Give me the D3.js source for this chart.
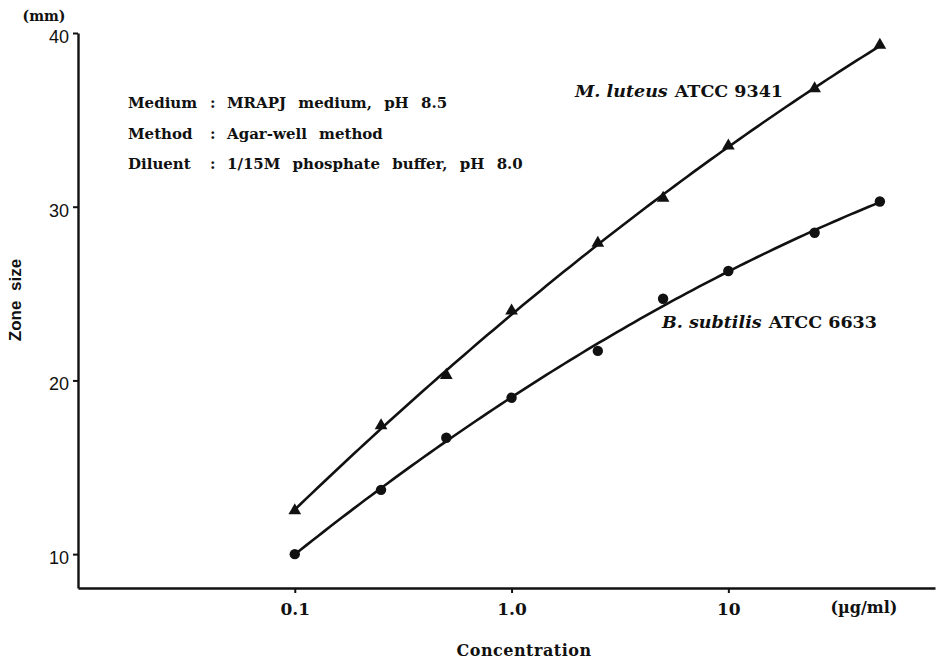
<!DOCTYPE html>
<html>
<head>
<meta charset="utf-8">
<script src="https://cdn.jsdelivr.net/npm/d3@7"></script>
<style>
  html, body { margin: 0; padding: 0; background: #fff; }
  svg { display: block; }
  .serif { font-family: "DejaVu Serif", "Liberation Serif", serif; fill: #111; }
  .sans { font-family: "Liberation Sans", Arial, sans-serif; fill: #111; }
</style>
</head>
<body>
<svg id="chart" width="939" height="661"></svg>
<script>
// Test concentrations (µg/ml) and inhibition zone diameters (mm)
const concentrations = [0.1, 0.25, 0.5, 1, 2.5, 5, 10, 25, 50];
const luteusZone   = [12.5, 17.4, 20.3, 24.0, 27.9, 30.5, 33.5, 36.8, 39.3];
const subtilisZone = [10.0, 13.7, 16.7, 19.0, 21.7, 24.7, 26.3, 28.5, 30.3];

const xTickValues = [0.1, 1, 10];
const xTickLabels = ["0.1", "1.0", "10"];
const yTickValues = [10, 20, 30, 40];

const conditionNames  = ["Medium", "Method", "Diluent"];
const conditionValues = ["MRAPJ medium, pH 8.5", "Agar-well method", "1/15M phosphate buffer, pH 8.0"];

const svg = d3.select("#chart");

const x = d3.scaleLog().domain([0.01, 89.8]).range([78, 935]);
const y = d3.scaleLinear().domain([8.05, 40]).range([588, 33]);

// Axes
const xAxis = d3.axisBottom(x)
  .tickValues(xTickValues)
  .tickFormat((d, i) => xTickLabels[i])
  .tickSizeInner(5).tickSizeOuter(0).tickPadding(10);
const yAxis = d3.axisLeft(y)
  .tickValues(yTickValues)
  .tickFormat(d3.format("d"))
  .tickSizeInner(5).tickSizeOuter(0).tickPadding(4);

const gx = svg.append("g").attr("transform", `translate(0,${y.range()[0]})`).call(xAxis);
const gy = svg.append("g").attr("transform", `translate(${x.range()[0]},0)`).call(yAxis);

[gx, gy].forEach(g => {
  g.select(".domain").attr("stroke", "#111").attr("stroke-width", 2.4);
  g.selectAll(".tick line").attr("stroke", "#111").attr("stroke-width", 2);
});
gx.selectAll(".tick text")
  .attr("class", "serif")
  .style("font-size", "17px").style("font-weight", "bold")
  .attr("fill", "#111");
gy.selectAll(".tick text")
  .attr("class", "sans")
  .style("font-size", "18px")
  .attr("fill", "#111")
  .attr("dy", "0.52em");

// Units and axis titles
svg.append("text").attr("class", "serif")
  .attr("x", 44).attr("y", 21).attr("text-anchor", "middle")
  .style("font-size", "14px").style("font-weight", "bold")
  .text("(mm)");
svg.append("text").attr("class", "serif")
  .attr("x", 864).attr("y", 613).attr("text-anchor", "middle")
  .style("font-size", "16px").style("font-weight", "bold")
  .text("(µg/ml)");
svg.append("text").attr("class", "serif")
  .attr("x", 524).attr("y", 656).attr("text-anchor", "middle")
  .style("font-size", "16px").style("font-weight", "bold")
  .style("letter-spacing", "0.5px")
  .text("Concentration");
svg.append("text").attr("class", "sans")
  .attr("transform", "translate(21,300) rotate(-90)")
  .attr("text-anchor", "middle")
  .style("font-size", "17px").style("font-weight", "bold")
  .style("word-spacing", "5px")
  .text("Zone size");

// Assay conditions block
const cond = svg.append("g").attr("class", "serif")
  .style("font-size", "15px").style("font-weight", "bold");
conditionNames.forEach((name, i) => {
  const yy = 108 + i * 30.5;
  cond.append("text").attr("x", 128).attr("y", yy).text(name);
  cond.append("text").attr("x", 210).attr("y", yy).text(":");
  cond.append("text").attr("x", 227).attr("y", yy)
    .style("word-spacing", "7px").text(conditionValues[i]);
});

// Quadratic least-squares fit of zone size against log10(concentration)
function quadFit(xs, ys) {
  let s = [0, 0, 0, 0, 0], t = [0, 0, 0];
  xs.forEach((xv, i) => {
    const u = Math.log10(xv);
    for (let k = 0; k < 5; k++) s[k] += Math.pow(u, k);
    for (let k = 0; k < 3; k++) t[k] += ys[i] * Math.pow(u, k);
  });
  const A = [[s[0], s[1], s[2], t[0]], [s[1], s[2], s[3], t[1]], [s[2], s[3], s[4], t[2]]];
  for (let c = 0; c < 3; c++) {
    for (let r = c + 1; r < 3; r++) {
      const f = A[r][c] / A[c][c];
      for (let k = c; k < 4; k++) A[r][k] -= f * A[c][k];
    }
  }
  const b = [0, 0, 0];
  for (let r = 2; r >= 0; r--) {
    let v = A[r][3];
    for (let k = r + 1; k < 3; k++) v -= A[r][k] * b[k];
    b[r] = v / A[r][r];
  }
  return c => { const u = Math.log10(c); return b[0] + b[1] * u + b[2] * u * u; };
}

const series = [
  { values: luteusZone, symbol: d3.symbolTriangle, size: 70 },
  { values: subtilisZone, symbol: d3.symbolCircle, size: 85 }
];

const line = d3.line().x(d => x(d[0])).y(d => y(d[1]));

series.forEach(s => {
  const f = quadFit(concentrations, s.values);
  const lo = Math.log10(concentrations[0]);
  const hi = Math.log10(concentrations[concentrations.length - 1]);
  const pts = d3.range(0, 101).map(i => {
    const c = Math.pow(10, lo + (hi - lo) * i / 100);
    return [c, f(c)];
  });
  svg.append("path").datum(pts)
    .attr("d", line)
    .attr("fill", "none").attr("stroke", "#111").attr("stroke-width", 2.6);

  svg.append("g").selectAll("path")
    .data(concentrations.map((c, i) => [c, s.values[i]]))
    .join("path")
    .attr("transform", d => `translate(${x(d[0])},${y(d[1])})`)
    .attr("d", d3.symbol().type(s.symbol).size(s.size))
    .attr("fill", "#111");
});

// Strain labels
const lab1 = svg.append("text").attr("class", "serif")
  .attr("x", 575).attr("y", 97)
  .style("font-size", "17.5px").style("font-weight", "bold");
lab1.append("tspan").style("font-style", "italic").text("M. luteus");
lab1.append("tspan").attr("dx", 7).text("ATCC 9341");

const lab2 = svg.append("text").attr("class", "serif")
  .attr("x", 662).attr("y", 328)
  .style("font-size", "17.5px").style("font-weight", "bold");
lab2.append("tspan").style("font-style", "italic").text("B. subtilis");
lab2.append("tspan").attr("dx", 7).text("ATCC 6633");
</script>
</body>
</html>
